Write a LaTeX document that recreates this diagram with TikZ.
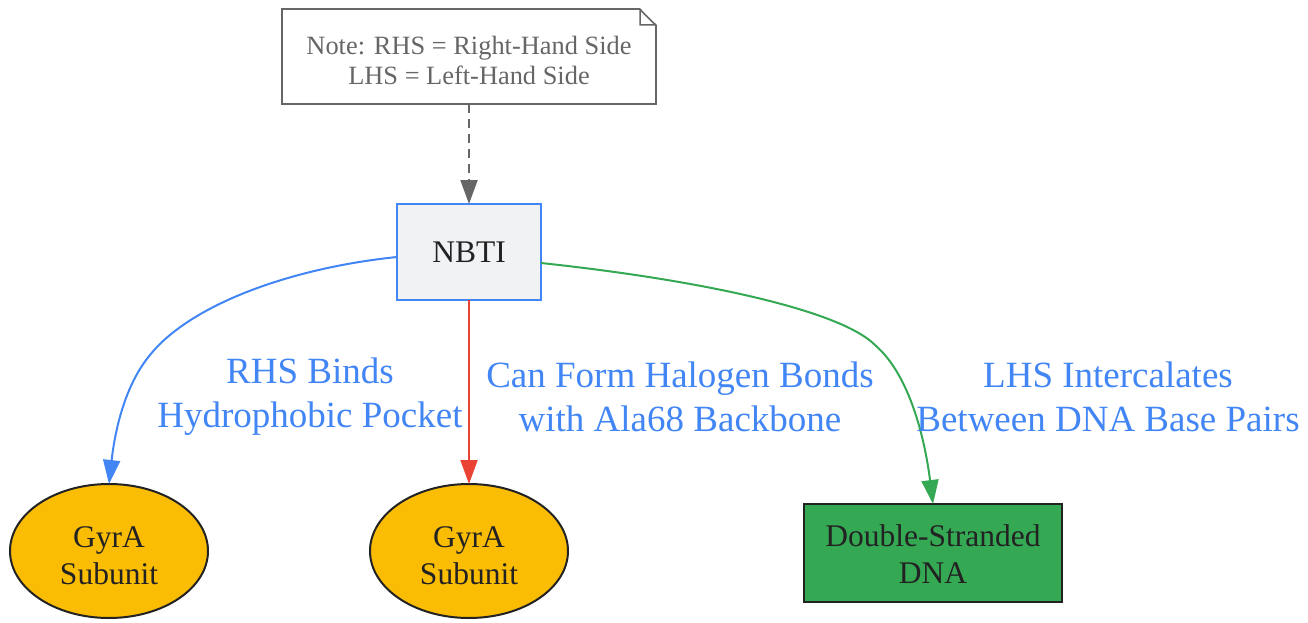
\documentclass[tikz,border=0pt]{standalone}
\usepackage{fontspec}
\setmainfont{Liberation Serif}
\usetikzlibrary{shapes.geometric,arrows.meta}
\definecolor{gblue}{HTML}{4285F4}
\definecolor{gred}{HTML}{EA4335}
\definecolor{ggreen}{HTML}{34A853}
\definecolor{gyellow}{HTML}{FBBC04}
\definecolor{ngray}{HTML}{666666}
\definecolor{dark}{HTML}{222222}
\definecolor{nbfill}{HTML}{F1F2F4}
\tikzset{
  every node/.style={inner sep=0pt, outer sep=0pt},
  notebox/.style={draw=ngray, line width=1.5pt, minimum width=374pt, minimum height=95pt},
  notetext/.style={text=ngray, font=\fontsize{26.4}{30}\selectfont, align=center},
  nbtibox/.style={draw=gblue, fill=nbfill, line width=2pt, minimum width=144pt, minimum height=96pt, text=dark, font=\fontsize{31.5}{37}\selectfont},
  gyrnode/.style={ellipse, draw=dark, fill=gyellow, line width=2pt, minimum width=198pt, minimum height=134pt},
  dnabox/.style={draw=dark, fill=ggreen, line width=2pt, minimum width=258pt, minimum height=98pt},
  ntext/.style={text=dark, font=\fontsize{31.5}{37}\selectfont, align=center},
  elabel/.style={text=gblue, font=\fontsize{37}{44}\selectfont, align=center},
  arr/.style={line width=2pt, -{Triangle[length=24pt,width=17pt]}},
}
\begin{document}
\begin{tikzpicture}[x=1pt,y=-1pt]
\useasboundingbox (0,0) rectangle (1308,623);
\node[notebox] (note) at (469,56.5) {};
\node[notetext] (notet) at (469,60.5) {Note: RHS = Right-Hand Side\\LHS = Left-Hand Side};
\fill[white] (640,8) -- (657,8) -- (657,25) -- cycle;
\draw[ngray, line width=1.5pt] (640,9.5) -- (655.5,25) (640,9.5) -- (640,25) -- (655.5,25);
\node[nbtibox] (nbti) at (469,252) {NBTI};
\node[gyrnode] (g1) at (109,551) {};
\node[ntext] (g1t) at (109,555.5) {GyrA\\Subunit};
\node[gyrnode] (g2) at (469,551) {};
\node[ntext] (g2t) at (469,555.5) {GyrA\\Subunit};
\node[dnabox] (dna) at (933,553) {};
\node[ntext] (dnat) at (933,554) {Double-Stranded\\DNA};
\draw[arr, ngray, dashed, dash pattern=on 9pt off 6pt] (note.south) -- (nbti.north);
\draw[arr, gblue] (nbti.west |- 0,257) .. controls (290,268) and (190,305) .. (150,355) .. controls (125,385) and (115,430) .. (g1.north);
\draw[arr, gred] (nbti.south) -- (g2.north);
\draw[arr, ggreen] (nbti.east |- 0,263) .. controls (700,280) and (840,310) .. (875,345) .. controls (910,375) and (925,440) .. (dna.north);
\node[elabel] (l1) at (310,397) {RHS Binds\\Hydrophobic Pocket};
\node[elabel] (l2) at (680,397) {Can Form Halogen Bonds\\with Ala68 Backbone};
\node[elabel] (l3) at (1108,397) {LHS Intercalates\\Between DNA Base Pairs};
\end{tikzpicture}
\end{document}
